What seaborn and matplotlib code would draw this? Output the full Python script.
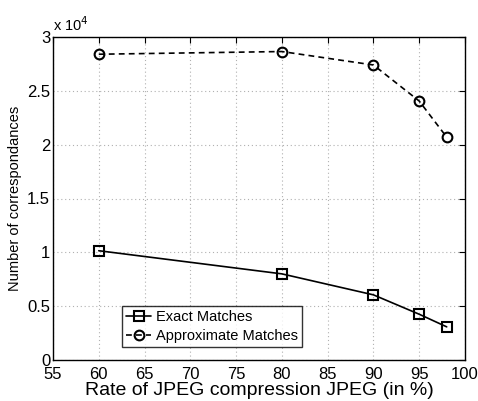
import matplotlib
matplotlib.use("Agg")
import matplotlib.pyplot as plt
import seaborn as sns
import pandas as pd

# Compression rates (%) and number of correspondences
rates = [60, 80, 90, 95, 98]
exact_matches = [10150, 8000, 6050, 4250, 3080]
approx_matches = [28400, 28650, 27400, 24050, 20700]

sns.set_theme(style="white")
plt.rcParams["font.family"] = ["Liberation Sans", "DejaVu Sans"]
plt.rcParams["text.color"] = "black"
plt.rcParams["axes.labelcolor"] = "black"

df = pd.DataFrame({
    "rate": rates * 2,
    "count": [v / 1e4 for v in exact_matches + approx_matches],
    "series": ["Exact Matches"] * len(rates) + ["Approximate Matches"] * len(rates),
})

fig = plt.figure(figsize=(4.78, 4.01), dpi=100)
ax = fig.add_axes([53 / 478, 1 - 360 / 401, 412 / 478, 323 / 401])

sns.lineplot(
    data=df, x="rate", y="count", style="series", ax=ax,
    markers={"Exact Matches": "s", "Approximate Matches": "o"},
    dashes={"Exact Matches": "", "Approximate Matches": (3.5, 2.5)},
    color="black", linewidth=1.2, markersize=7,
    markerfacecolor="none", markeredgecolor="black", markeredgewidth=1.5,
)

ax.set_xlim(55, 100)
ax.set_ylim(0, 3)
ax.set_xticks(range(55, 101, 5))
ax.set_yticks([0, 0.5, 1, 1.5, 2, 2.5, 3])
ax.set_yticklabels(["0", "0.5", "1", "1.5", "2", "2.5", "3"])
ax.grid(True, color="#b0b0b0", linestyle=(0, (1, 2.5)), linewidth=0.8)
ax.tick_params(direction="in", top=True, right=True, length=4, width=0.8,
               labelsize=12, colors="black")
ax.tick_params(axis="x", pad=5)
ax.tick_params(axis="y", pad=2)
for s in ax.spines.values():
    s.set_color("black")
    s.set_linewidth(1.0)

ax.set_xlabel("Rate of JPEG compression JPEG (in %)", fontsize=14, labelpad=0)
ax.set_ylabel("Number of correspondances", fontsize=10.5, labelpad=4)
ax.text(0.0, 1.01, r"x 10$^4$", transform=ax.transAxes, fontsize=10.5,
        ha="left", va="bottom", color="black")

handles, labels = ax.get_legend_handles_labels()
leg = ax.legend(handles, labels, loc="lower left", bbox_to_anchor=(0.167, 0.04),
                fontsize=10.5, frameon=True, fancybox=False, edgecolor="black",
                borderpad=0.3, handlelength=1.7, handletextpad=0.35,
                labelspacing=0.3, borderaxespad=0, labelcolor="black")
leg.get_frame().set_linewidth(1.0)

fig.savefig("out.png", dpi=100)
